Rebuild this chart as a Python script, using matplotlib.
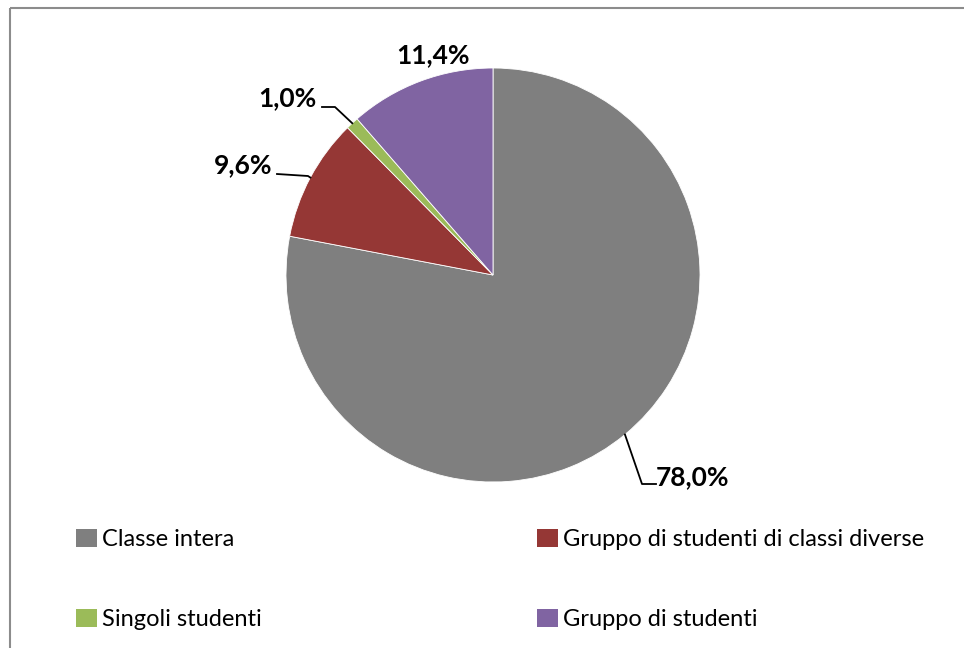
import matplotlib
matplotlib.use("Agg")
import matplotlib.pyplot as plt
import numpy as np
from matplotlib.patches import Patch

categories = ["Classe intera", "Gruppo di studenti di classi diverse",
              "Singoli studenti", "Gruppo di studenti"]
values = [78.0, 9.6, 1.0, 11.4]
colors = ["#7F7F7F", "#953735", "#9BBB59", "#8064A2"]
value_labels = ["78,0%", "9,6%", "1,0%", "11,4%"]

plt.rcParams["font.family"] = ["Lato", "DejaVu Sans"]

W, H = 964, 648
fig = plt.figure(figsize=(W / 100, H / 100), dpi=100)
ax = fig.add_axes([0, 0, 1, 1])

cx, cy, r = 493, H - 275, 207
wedges, _ = ax.pie(values, colors=colors, startangle=90, counterclock=False,
                   center=(cx, cy), radius=r, frame=True,
                   wedgeprops=dict(linewidth=0.6, edgecolor="white"))
ax.set_xlim(0, W)
ax.set_ylim(0, H)
ax.set_aspect("equal")
ax.axis("off")

# chart-area frame (left and top edges visible)
ax.plot([10, 10], [0, H - 8], color="#8C8C8C", lw=1.5, solid_capstyle="butt")
ax.plot([10, W], [H - 8, H - 8], color="#8C8C8C", lw=1.5, solid_capstyle="butt")

# data labels: text anchor, leader elbow points, alignment
label_pos = [
    (656, H - 477, [(656, H - 484), (642, H - 484)], "left"),
    (272, H - 165, [(277, H - 174), (308, H - 176)], "right"),
    (316, H - 98, [(322, H - 107), (335, H - 107)], "right"),
    (433, H - 55, None, "center"),
]
for w, lab, (tx, ty, elbow, ha) in zip(wedges, value_labels, label_pos):
    ax.text(tx, ty, lab, ha=ha, va="center", fontsize=19, fontweight="bold",
            color="black")
    if elbow is not None:
        mid = np.deg2rad((w.theta1 + w.theta2) / 2)
        ex, ey = cx + r * np.cos(mid), cy + r * np.sin(mid)
        xs = [p[0] for p in elbow] + [ex]
        ys = [p[1] for p in elbow] + [ey]
        ax.plot(xs, ys, color="black", lw=1.3)

# legend: two columns, two rows
handles = [Patch(facecolor=c, edgecolor="none") for c in colors]
legend_kw = dict(loc="upper left", frameon=False, fontsize=17,
                 handlelength=0.9, handleheight=0.8, handletextpad=0.2,
                 labelspacing=2.5, borderaxespad=0, borderpad=0)
leg1 = ax.legend([handles[0], handles[2]], [categories[0], categories[2]],
                 bbox_to_anchor=(76 / W, 1 - 529 / H), **legend_kw)
ax.add_artist(leg1)
ax.legend([handles[1], handles[3]], [categories[1], categories[3]],
          bbox_to_anchor=(537 / W, 1 - 529 / H), **legend_kw)

fig.savefig("out.png", dpi=100, facecolor="white")
